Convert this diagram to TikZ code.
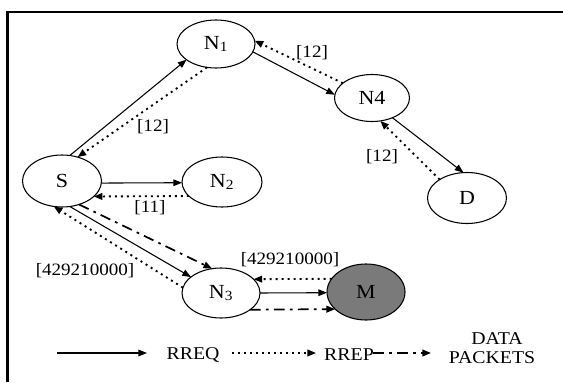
\documentclass[tikz,border=0pt]{standalone}
\usepackage{fontspec}
\setmainfont{Liberation Serif}[FakeStretch=1.1]
\usetikzlibrary{arrows.meta,shapes.geometric}
\begin{document}
\begin{tikzpicture}[x=0.75pt,y=-0.75pt,
  station/.style={draw,ellipse,inner sep=0pt,outer sep=0pt,line width=0.8pt,font=\fontsize{15}{17}\selectfont},
  lbl/.style={inner sep=0pt,font=\fontsize{13}{15}\selectfont},
  tip/.style={-{Triangle[length=6.5pt,width=5pt]}},
  req/.style={tip,line width=0.8pt},
  rep/.style={tip,line width=1.4pt,dash pattern=on 1.5pt off 3pt},
  dat/.style={tip,line width=1.3pt,dash pattern=on 8pt off 4pt on 2pt off 4pt}]
\useasboundingbox (0,0) rectangle (563,382);
% frame
\draw[line width=1.6pt] (7.5,382) -- (7.5,12) -- (563,12);

% stations (sizes in pixels of 0.75pt)
\node[station,minimum width=0.75*78pt,minimum height=0.75*48pt] (N1) at (216,44) {N\textsubscript{1}};
\node[station,minimum width=0.75*75pt,minimum height=0.75*47pt] (N4) at (372,98) {N4};
\node[station,minimum width=0.75*79pt,minimum height=0.75*52pt] (S)  at (62,181) {S};
\node[station,minimum width=0.75*80pt,minimum height=0.75*50pt] (N2) at (222,182) {N\textsubscript{2}};
\node[station,minimum width=0.75*79pt,minimum height=0.75*51pt] (D)  at (467,198) {D};
\node[station,minimum width=0.75*78pt,minimum height=0.75*50pt] (N3) at (221,293) {N\textsubscript{3}};
\node[station,minimum width=0.75*78pt,minimum height=0.75*56pt,fill=black!52] (M) at (366,292) {M};

% route requests
\draw[req] (S.73) -- (N1.208);
\draw[req] (N1.348) -- (N4.175);
\draw[req] (N4.316) -- (D.98);
\draw[req] (S.357) -- (N2.181);
\draw[req] (S.287) -- (N3.152);
\draw[req] (N3.east) -- (M.181);

% route replies
\draw[rep] (N1.249) -- (S.57);
\draw[rep] (N4.153) -- (N1.5);
\draw[rep] (D.146) -- (N4.290);
\draw[rep] (N2.203) -- (S.334);
\draw[rep] (N3.172) -- (S.252);
\draw[rep] (M.159) -- (N3.23);

% data packets
\draw[dat] (S.306) -- (N3.110);
\draw[dat] (N3.330) -- (M.209);

% sequence numbers
\node[lbl] (q1) at (153,127) {[12]};
\node[lbl] (q2) at (312,53) {[12]};
\node[lbl] (q3) at (382,157) {[12]};
\node[lbl] (q4) at (150,208) {[11]};
\node[lbl] (q5) at (85,271) {[429210000]};
\node[lbl] (q6) at (290,260) {[429210000]};

% legend
\coordinate (a1) at (57,353);
\coordinate (a2) at (147,353);
\coordinate (b1) at (232,353);
\coordinate (b2) at (316,353);
\coordinate (c1) at (373,353);
\coordinate (c2) at (431,353);
\node[lbl,font=\fontsize{13.5}{15}\selectfont] (rreq) at (193,355) {RREQ};
\node[lbl,font=\fontsize{13.5}{15}\selectfont] (rrep) at (349,355) {RREP};
\node[lbl,font=\fontsize{13.5}{15}\selectfont] (data) at (497,339) {DATA};
\node[lbl,font=\fontsize{13.5}{15}\selectfont] (pk) at (492,358) {PACKETS};
\draw[req] (a1) -- (a2);
\draw[rep] (b1) -- (b2);
\draw[dat] (c1) -- (c2);
\end{tikzpicture}
\end{document}
